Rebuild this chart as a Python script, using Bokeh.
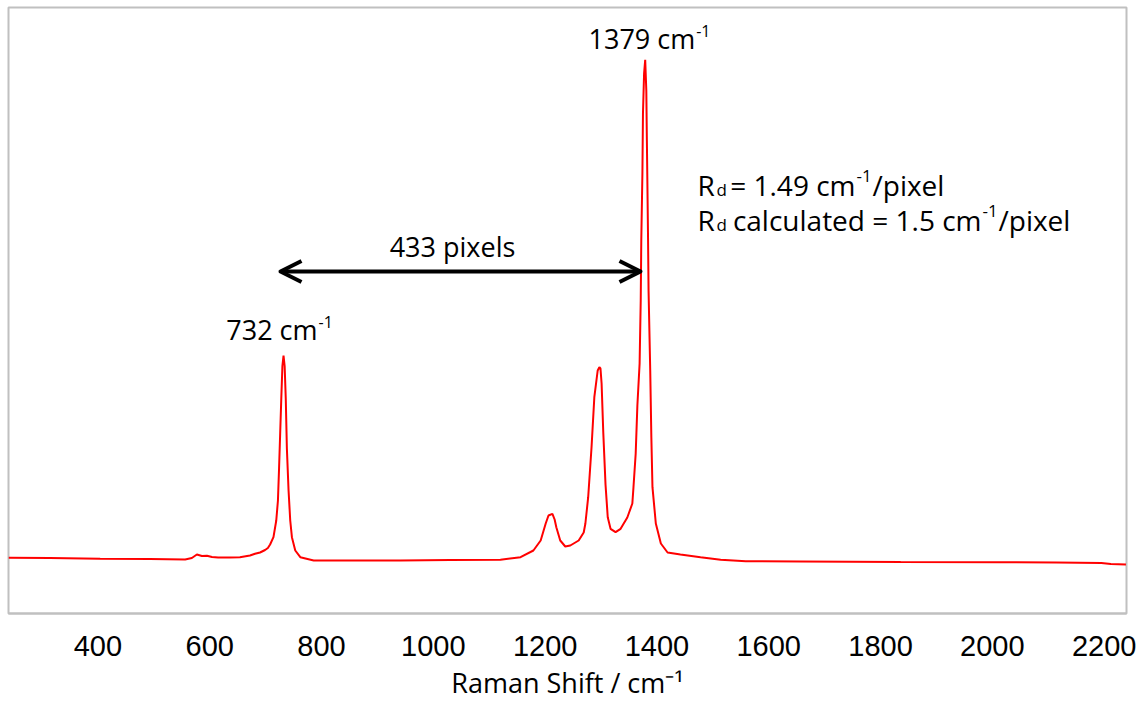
from bokeh.plotting import figure
from bokeh.models import Range1d, Label, Arrow, OpenHead, FixedTicker
from bokeh.embed import file_html
from bokeh.resources import INLINE

# ---- data ----
raman_shift = [240, 314, 404, 493, 556, 568, 577, 586, 595, 604, 615, 636, 654, 672, 681,
               690, 699, 704, 708, 714, 719, 722, 724, 726, 728, 730, 732, 734, 736, 738,
               741, 744, 747, 753, 762, 786, 833, 941, 1030, 1120, 1156, 1179, 1192, 1201,
               1206, 1213, 1217, 1220, 1227, 1236, 1245, 1260, 1269, 1272, 1277, 1283, 1288,
               1294, 1297, 1299, 1301, 1304, 1308, 1312, 1317, 1326, 1335, 1347, 1356, 1358,
               1362, 1365, 1369, 1371, 1372, 1374, 1375, 1377, 1379, 1381, 1382, 1384, 1385,
               1388, 1390, 1392, 1398, 1407, 1419, 1442, 1478, 1514, 1559, 1657, 1836, 2015,
               2114, 2195, 2212, 2239]
intensity = [1114, 1110, 1094, 1090, 1080, 1110, 1180, 1150, 1154, 1130, 1120, 1120, 1126, 1160, 1194,
             1220, 1270, 1310, 1380, 1526, 1860, 2260, 2900, 3600, 4300, 4950, 5160, 4950, 4300, 3300,
             2460, 1860, 1526, 1260, 1126, 1060, 1060, 1060, 1070, 1074, 1126, 1260, 1460, 1800,
             1960, 1994, 1880, 1726, 1460, 1340, 1360, 1460, 1620, 1800, 2326, 3326, 4326,
             4860, 4926, 4900, 4600, 3620, 2580, 1926, 1694, 1626, 1694, 1920, 2200, 2520,
             3200, 4160, 5000, 6260, 7460, 8800, 10000, 10800, 11074, 10460, 9460, 7600, 6460,
             4860, 3526, 2526, 1800, 1400, 1220, 1180, 1126, 1074, 1046, 1040, 1030, 1026,
             1020, 1010, 990, 980]
x_ticks = [400, 600, 800, 1000, 1200, 1400, 1600, 1800, 2000, 2200]
labelled_peaks = [732, 1379]
pixel_count = "433 pixels"
rd_measured = "1.49"
rd_calculated = "1.5"

X0, X1 = 240, 2240
Y0, Y1 = 0, 12120
FL, FR, FT, FB = 8, 1126, 7, 613   # frame edges in screen pixels
LIFT = 9                            # baseline correction for labels (px)


def px2x(px):
    return X0 + (px - FL) * (X1 - X0) / (FR - FL)


def py2y(py):
    return Y0 + (FB - py) * (Y1 - Y0) / (FB - FT)


p = figure(width=1148, height=703, output_backend="svg", toolbar_location=None,
           x_range=Range1d(X0, X1), y_range=Range1d(Y0, Y1), y_axis_location=None,
           min_border_left=FL, min_border_right=1148 - FR, min_border_top=FT,
           min_border_bottom=703 - FB)
p.background_fill_color = "white"
p.border_fill_color = "white"
p.outline_line_color = "#c0c0c0"
p.outline_line_width = 2
p.xgrid.visible = False
p.ygrid.visible = False

p.line(raman_shift, intensity, line_color="#ff0000", line_width=2)

ax = p.xaxis[0]
ax.ticker = FixedTicker(ticks=x_ticks)
ax.axis_line_color = "#c0c0c0"
ax.axis_line_width = 2
ax.major_tick_out = 0
ax.major_tick_in = 0
ax.minor_tick_out = 0
ax.minor_tick_in = 0
ax.major_label_text_font = "Liberation Sans"
ax.major_label_text_font_size = "29px"
ax.major_label_text_color = "black"
ax.major_label_standoff = 22
ax.axis_label = "Raman Shift / cm\u207b\u00b9"
ax.axis_label_text_font = "Open Sans"
ax.axis_label_text_font_size = "27px"
ax.axis_label_text_font_style = "normal"
ax.axis_label_text_color = "black"
ax.axis_label_standoff = 5

FONT = "Open Sans"
MAIN = "27px"
SMALL = "16px"
RD = "28px"
RD_SMALL = "17px"


def add_label(x, y, text, size=MAIN, align="left", xo=0, yo=0):
    p.add_layout(Label(x=x, y=y, text=text, x_offset=xo, y_offset=yo + LIFT,
                       text_font=FONT, text_font_size=size, text_color="black",
                       text_align=align, text_baseline="alphabetic"))


# peak labels: main text right-aligned against the superscript
peak_height = {s: v for s, v in zip(raman_shift, intensity)}
sup_off = {732: (34, 17), 1379: (50, 12)}
for pk in labelled_peaks:
    yv = peak_height[pk]
    dx, dy = sup_off[pk]
    add_label(pk, yv, f"{pk} cm", align="right", xo=dx, yo=dy)
    add_label(pk, yv, "-1", size=SMALL, xo=dx + 1, yo=dy + 8)

# double arrow
ay = py2y(271)
p.add_layout(Arrow(x_start=px2x(280), y_start=ay, x_end=px2x(640), y_end=ay,
                   line_width=4, line_color="black",
                   start=OpenHead(size=21, line_width=4, line_color="black", line_join="round"),
                   end=OpenHead(size=21, line_width=4, line_color="black", line_join="round")))
add_label(px2x(452), py2y(255), pixel_count, align="center")

# R_d texts: body right-aligned against the superscript
for base, body, sup_x, tail, tail_x in [
        (193, f"= {rd_measured} cm", 856, "/pixel", 872),
        (228, f"calculated = {rd_calculated} cm", 982, " /pixel", 998)]:
    add_label(px2x(697), py2y(base), "R", size=RD)
    add_label(px2x(716), py2y(base + 5), "d", size=RD_SMALL)
    add_label(px2x(sup_x - 1), py2y(base), body, size=RD, align="right")
    add_label(px2x(sup_x), py2y(base - 9), "-1", size=RD_SMALL)
    add_label(px2x(tail_x), py2y(base), tail, size=RD)

open("out.html", "w").write(file_html(p, INLINE))
